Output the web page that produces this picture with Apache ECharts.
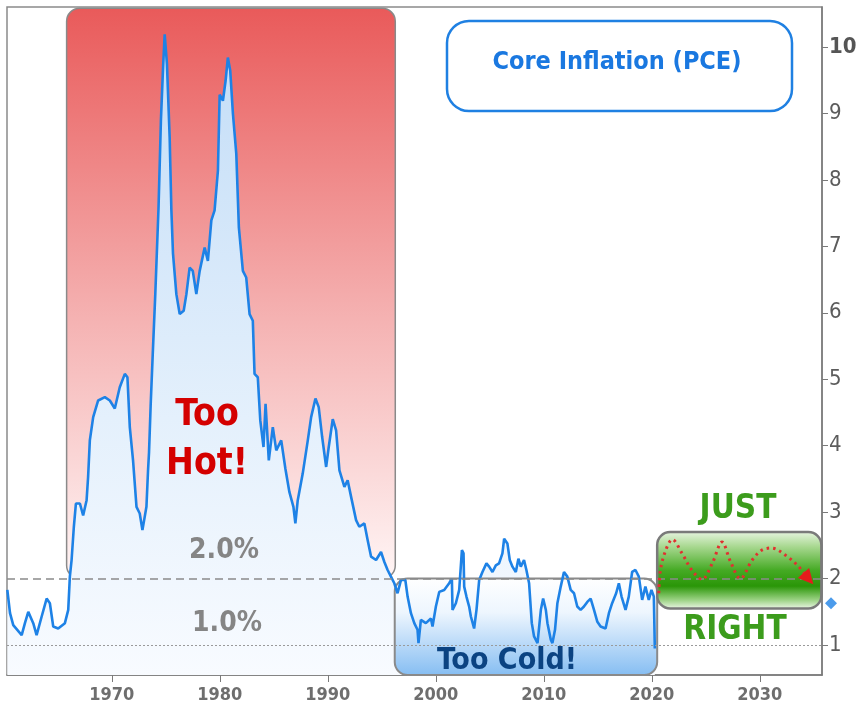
<!DOCTYPE html>
<html>
<head>
<meta charset="utf-8">
<script src="https://cdn.jsdelivr.net/npm/echarts@6/dist/echarts.min.js"></script>
<style>
  html, body { margin: 0; padding: 0; background: #fff; }
  #chart { width: 867px; height: 717px; }
</style>
</head>
<body>
<div id="chart"></div>
<script>
// core PCE, year-over-year %
const coreYears = [
  1960.33, 1960.58, 1960.88, 1961.66, 1961.96, 1962.27, 1962.73, 1963.04, 1963.51, 1963.97,
  1964.27, 1964.58, 1965.04, 1965.66, 1965.97, 1966.12, 1966.28, 1966.49, 1966.68, 1967.05,
  1967.35, 1967.67, 1967.81, 1967.97, 1968.28, 1968.74, 1969.36, 1969.82, 1970.28, 1970.74,
  1971.21, 1971.45, 1971.67, 1971.97, 1972.29, 1972.59, 1972.84, 1973.21, 1973.36, 1973.45,
  1973.6, 1973.8, 1974.03, 1974.33, 1974.55, 1974.75, 1974.9, 1975.11, 1975.36, 1975.52,
  1975.67, 1975.98, 1976.29, 1976.66, 1976.91, 1977.21, 1977.5, 1977.83, 1978.14, 1978.6,
  1978.9, 1979.22, 1979.52, 1979.83, 1979.99, 1980.29, 1980.54, 1980.75, 1980.97, 1981.22,
  1981.53, 1981.77, 1982.14, 1982.45, 1982.76, 1983.06, 1983.22, 1983.52, 1983.75, 1984.05,
  1984.24, 1984.54, 1984.91, 1985.23, 1985.69, 1986.08, 1986.45, 1986.82, 1987.0, 1987.22,
  1987.68, 1988.15, 1988.46, 1988.86, 1989.16, 1989.48, 1989.85, 1990.09, 1990.46, 1990.77,
  1991.08, 1991.54, 1991.84, 1992.16, 1992.62, 1992.92, 1993.39, 1993.69, 1994.01, 1994.47,
  1994.93, 1995.24, 1995.54, 1995.85, 1996.16, 1996.46, 1996.78, 1997.18, 1997.39, 1997.7,
  1998.01, 1998.31, 1998.4, 1998.62, 1999.08, 1999.55, 1999.7, 2000.01, 2000.32, 2000.78,
  2001.24, 2001.49, 2001.55, 2001.86, 2002.17, 2002.42, 2002.57, 2002.63, 2002.84, 2003.09,
  2003.25, 2003.55, 2003.77, 2004.02, 2004.32, 2004.69, 2004.94, 2005.25, 2005.56, 2005.86,
  2006.17, 2006.33, 2006.63, 2006.85, 2007.1, 2007.41, 2007.65, 2007.87, 2008.17, 2008.39,
  2008.64, 2008.89, 2009.1, 2009.42, 2009.73, 2009.94, 2010.19, 2010.34, 2010.65, 2010.8,
  2011.04, 2011.26, 2011.57, 2011.87, 2012.18, 2012.49, 2012.8, 2013.1, 2013.41, 2013.72,
  2014.03, 2014.34, 2014.65, 2014.96, 2015.26, 2015.72, 2016.03, 2016.33, 2016.7, 2016.95,
  2017.2, 2017.57, 2017.87, 2018.18, 2018.49, 2018.8, 2019.11, 2019.41, 2019.72, 2019.97,
  2020.19, 2020.28
];
const corePce = [
  1.83, 1.48, 1.30, 1.15, 1.33, 1.50, 1.33, 1.15, 1.43, 1.70,
  1.63, 1.28, 1.25, 1.33, 1.53, 2.03, 2.28, 2.78, 3.13, 3.13,
  2.95, 3.18, 3.53, 4.08, 4.43, 4.68, 4.73, 4.68, 4.56, 4.88,
  5.08, 5.03, 4.28, 3.78, 3.08, 2.98, 2.73, 3.08, 3.63, 3.9,
  4.6, 5.4, 6.28, 7.58, 8.89, 9.69, 10.19, 9.74, 8.64, 7.54,
  6.89, 6.28, 5.98, 6.03, 6.28, 6.68, 6.63, 6.28, 6.63, 6.98,
  6.78, 7.39, 7.54, 8.14, 9.28, 9.19, 9.49, 9.84, 9.64, 8.99,
  8.39, 7.28, 6.63, 6.53, 5.98, 5.88, 5.08, 5.03, 4.38, 3.98,
  4.63, 3.78, 4.28, 3.93, 4.08, 3.65, 3.30, 3.08, 2.83, 3.18,
  3.58, 4.08, 4.43, 4.71, 4.58, 4.13, 3.68, 3.98, 4.40, 4.23,
  3.63, 3.38, 3.48, 3.23, 2.88, 2.78, 2.83, 2.58, 2.33, 2.28,
  2.40, 2.25, 2.13, 2.03, 1.93, 1.78, 1.98, 1.98, 1.73, 1.48,
  1.33, 1.23, 1.03, 1.38, 1.33, 1.40, 1.28, 1.58, 1.80, 1.83,
  1.93, 2.00, 1.53, 1.63, 1.83, 2.43, 2.38, 1.88, 1.73, 1.58,
  1.43, 1.25, 1.53, 1.98, 2.10, 2.23, 2.18, 2.10, 2.20, 2.23,
  2.38, 2.60, 2.53, 2.28, 2.18, 2.10, 2.30, 2.18, 2.28, 2.13,
  1.93, 1.33, 1.13, 1.03, 1.53, 1.70, 1.53, 1.33, 1.08, 1.03,
  1.23, 1.63, 1.88, 2.10, 2.03, 1.83, 1.78, 1.58, 1.53, 1.58,
  1.65, 1.70, 1.53, 1.35, 1.28, 1.25, 1.48, 1.63, 1.78, 1.93,
  1.73, 1.53, 1.73, 2.10, 2.13, 2.03, 1.68, 1.88, 1.68, 1.83,
  1.73, 0.95
];

// sketched "just right" path
const forecastYears = [2020.65, 2020.8, 2021.3, 2021.9, 2022.8, 2023.7, 2024.65, 2025.6, 2026.5,
  2027.3, 2028.2, 2029.3, 2030.2, 2031.1, 2032.4, 2033.6, 2034.5];
const forecastPce = [1.78, 2.13, 2.43, 2.59, 2.38, 2.13, 1.99, 2.23, 2.55,
  2.25, 2.00, 2.28, 2.43, 2.46, 2.35, 2.18, 2.00];

// zones: [fromYear, toYear, low, high]
const hotZone = [1965.82, 1996.25, 2.0, 10.58];
const coldZone = [1996.2, 2020.5, 0.55, 2.0];
const rightZone = [2020.5, 2035.7, 1.55, 2.7];

const targetRate = 2.0;
const floorRate = 1.0;
const lastValue = 1.63;

const xTicks = [1970, 1980, 1990, 2000, 2010, 2020, 2030];
const yTicks = [1, 2, 3, 4, 5, 6, 7, 8, 9, 10];
const xMin = 1960.3, xMax = 2035.76;
const yMin = 0.55, yMax = 10.6;

const FONT = '"DejaVu Sans Condensed", "DejaVu Sans", sans-serif';

const chart = echarts.init(document.getElementById('chart'));

const corePoints = coreYears.map((y, i) => [y, corePce[i]]);
const forecastPoints = forecastYears.map((y, i) => {
  if (i === forecastYears.length - 1) {
    return { value: [y, forecastPce[i]], symbol: 'triangle', symbolSize: 15, symbolRotate: -139 };
  }
  return [y, forecastPce[i]];
});

function zoneRender(fill, stroke, width) {
  return function (params, api) {
    const p0 = api.coord([api.value(0), api.value(3)]);
    const p1 = api.coord([api.value(1), api.value(2)]);
    return {
      type: 'rect',
      shape: { x: p0[0], y: p0[1], width: p1[0] - p0[0], height: p1[1] - p0[1], r: 13 },
      style: { fill: fill, stroke: stroke, lineWidth: width }
    };
  };
}

const lg = (stops) => new echarts.graphic.LinearGradient(0, 0, 0, 1,
  stops.map(s => ({ offset: s[0], color: s[1] })));

const option = {
  animation: false,
  backgroundColor: '#ffffff',
  grid: { left: 7, right: 45, top: 7, bottom: 42, show: true, borderColor: '#8a8a8a', borderWidth: 1.5 },
  xAxis: {
    type: 'value',
    min: xMin,
    max: xMax,
    axisLine: { onZero: false, lineStyle: { color: '#7a7a7a', width: 1.5 } },
    axisTick: { customValues: xTicks, length: 7, lineStyle: { color: '#7a7a7a' } },
    axisLabel: {
      customValues: xTicks, color: '#6e6e6e', fontFamily: FONT, fontWeight: 'bold', fontSize: 18, margin: 11,
      formatter: v => String(Math.round(v))
    },
    splitLine: { show: false }
  },
  yAxis: {
    type: 'value',
    position: 'right',
    min: yMin,
    max: yMax,
    axisLine: { show: true, lineStyle: { color: '#7a7a7a', width: 1.5 } },
    axisTick: { show: true, customValues: yTicks, length: 6, lineStyle: { color: '#7a7a7a' } },
    axisLabel: {
      customValues: yTicks, color: '#5c5c5c', fontFamily: FONT, fontSize: 22, margin: 7,
      formatter: v => (v === 10 ? '{b|10}' : String(v)),
      rich: { b: { fontFamily: FONT, fontSize: 22, fontWeight: 'bold', color: '#555555' } }
    },
    splitLine: { show: false }
  },
  series: [
    {
      name: 'hot', type: 'custom', z: 1, silent: true,
      encode: { x: [0, 1], y: [2, 3] },
      data: [hotZone],
      renderItem: zoneRender(lg([[0, '#e95a5a'], [0.55, '#f5b3b3'], [1, '#fff5f5']]), '#8a8a8a', 1.5)
    },
    {
      name: 'area', type: 'line', z: 2, silent: true,
      data: corePoints, showSymbol: false,
      lineStyle: { width: 0 },
      areaStyle: { origin: 'start', color: lg([[0, '#c3ddf7'], [0.6, '#e4f0fc'], [1, '#f8fbff']]), opacity: 1 }
    },
    {
      name: 'cold', type: 'custom', z: 3, silent: true,
      encode: { x: [0, 1], y: [2, 3] },
      data: [coldZone],
      renderItem: zoneRender(lg([[0, '#ffffff'], [0.35, '#eef6fe'], [1, '#85bdf2']]), '#8a8a8a', 2)
    },
    {
      name: 'right', type: 'custom', z: 3, silent: true,
      encode: { x: [0, 1], y: [2, 3] },
      data: [rightZone],
      renderItem: zoneRender(lg([[0, '#eaf6e4'], [0.2, '#a8d890'], [0.5, '#45aa24'], [0.7, '#2a9608'], [0.88, '#9fd488'], [1, '#f5fbf2']]), '#7a7a7a', 2.5)
    },
    {
      name: 'Core PCE', type: 'line', z: 4,
      data: corePoints, showSymbol: false,
      lineStyle: { color: '#1e82e6', width: 2.6 },
      markLine: {
        silent: true, symbol: 'none', label: { show: false },
        data: [
          { yAxis: targetRate, lineStyle: { color: '#8a8a8a', type: [8, 5], width: 1.5 } },
          { yAxis: floorRate, lineStyle: { color: '#9a9a9a', type: [2, 2], width: 1.2 } }
        ]
      }
    },
    {
      name: 'path', type: 'line', z: 5, smooth: 0.35,
      data: forecastPoints, showSymbol: true, symbol: 'none',
      itemStyle: { color: '#e51c1c' },
      lineStyle: { color: '#e03030', width: 3, type: [2.5, 4] }
    },
    {
      name: 'last', type: 'scatter', z: 5, clip: false,
      data: [[xMax, lastValue]],
      symbol: 'diamond', symbolSize: 12, symbolOffset: [9, 0],
      itemStyle: { color: '#1e82e6' }
    }
  ],
  graphic: [
    {
      type: 'rect', z: 100,
      shape: { x: 447, y: 21, width: 345, height: 90, r: 22 },
      style: { fill: '#ffffff', stroke: '#1f80e2', lineWidth: 2.5 }
    },
    {
      type: 'text', z: 101, x: 617, y: 62,
      style: { text: 'Core Inflation (PCE)', fill: '#1a78e0', font: 'bold 25px ' + FONT, align: 'center', verticalAlign: 'middle' }
    },
    {
      type: 'text', z: 101, x: 207, y: 440,
      style: { text: 'Too\nHot!', fill: '#d40000', font: 'bold 37px ' + FONT, lineHeight: 49, align: 'center', verticalAlign: 'middle' }
    },
    {
      type: 'text', z: 101, x: 224, y: 551,
      style: { text: '2.0%', fill: '#858585', font: 'bold 28px ' + FONT, align: 'center', verticalAlign: 'middle' }
    },
    {
      type: 'text', z: 101, x: 227, y: 624,
      style: { text: '1.0%', fill: '#858585', font: 'bold 28px ' + FONT, align: 'center', verticalAlign: 'middle' }
    },
    {
      type: 'text', z: 101, x: 507, y: 661,
      style: { text: 'Too Cold!', fill: '#0b4382', font: 'bold 30px ' + FONT, align: 'center', verticalAlign: 'middle' }
    },
    {
      type: 'text', z: 101, x: 738, y: 509,
      style: { text: 'JUST', fill: '#3c9c1c', font: 'bold 33px ' + FONT, align: 'center', verticalAlign: 'middle' }
    },
    {
      type: 'text', z: 101, x: 735, y: 630,
      style: { text: 'RIGHT', fill: '#3c9c1c', font: 'bold 33px ' + FONT, align: 'center', verticalAlign: 'middle' }
    }
  ]
};

chart.setOption(option);
</script>
</body>
</html>
